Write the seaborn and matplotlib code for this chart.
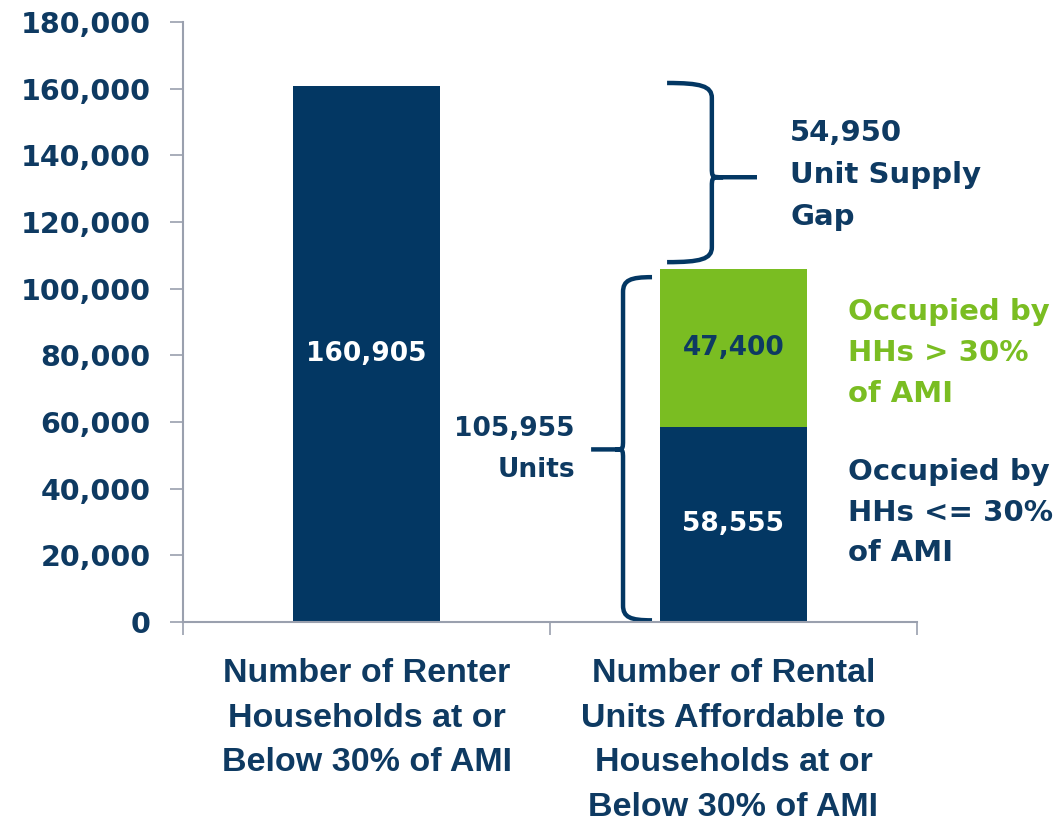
import matplotlib
matplotlib.use("Agg")
from matplotlib import pyplot as plt
from matplotlib.path import Path
from matplotlib.patches import PathPatch
from matplotlib.ticker import FuncFormatter
import seaborn as sns

# data
categories = ["Number of Renter\nHouseholds at or\nBelow 30% of AMI",
              "Number of Rental\nUnits Affordable to\nHouseholds at or\nBelow 30% of AMI"]
renter_households = 160905
units_low_income = 58555     # occupied by HHs <= 30% of AMI
units_higher_income = 47400  # occupied by HHs > 30% of AMI
units_total = units_low_income + units_higher_income
supply_gap = renter_households - units_total

navy = '#033763'
green = '#7ABD22'
text_navy = '#0E3A62'
axis_gray = '#9AA0AE'


def brace(ax, x_end, x_spine, x_tip, y_top, y_bot, y_mid, r, r_mid):
    x_cusp = x_spine + (x_tip - x_spine) * 0.25
    x_ctl = x_end + (x_spine - x_end) * 0.75
    verts = [(x_end, y_top), (x_ctl, y_top), (x_spine, y_top - r * 0.2), (x_spine, y_top - r),
             (x_spine, y_mid + r_mid),
             (x_spine, y_mid), (x_spine, y_mid), (x_cusp, y_mid),
             (x_tip, y_mid),
             (x_cusp, y_mid),
             (x_spine, y_mid), (x_spine, y_mid), (x_spine, y_mid - r_mid),
             (x_spine, y_bot + r),
             (x_spine, y_bot + r * 0.2), (x_ctl, y_bot), (x_end, y_bot)]
    M, C, L = Path.MOVETO, Path.CURVE4, Path.LINETO
    codes = [M, C, C, C, L, C, C, C, L, M, C, C, C, L, C, C, C]
    ax.add_patch(PathPatch(Path(verts, codes), fill=False, edgecolor=navy,
                           linewidth=3.2, capstyle='butt', joinstyle='round', clip_on=False))


sns.set_style("white")
plt.rcParams['font.family'] = ['DejaVu Sans']
plt.rcParams['font.weight'] = 'bold'

fig = plt.figure(figsize=(10.61, 8.36), dpi=100)
ax = fig.add_axes([183 / 1061, 214 / 836, 734 / 1061, 600 / 836])

# full height bars (second one green = all affordable units)
sns.barplot(x=categories, y=[renter_households, units_total], hue=categories,
            palette=[navy, green], width=0.4, legend=False, ax=ax, saturation=1,
            linewidth=0)
# lower segment of stacked bar
sns.barplot(x=categories, y=[renter_households, units_low_income], color=navy,
            width=0.4, ax=ax, saturation=1, linewidth=0)

ax.set_xlim(-0.5, 1.5)
ax.set_ylim(0, 180000)
ax.set_yticks(range(0, 180001, 20000))
ax.yaxis.set_major_formatter(FuncFormatter(lambda v, p: f"{v:,.0f}"))
ax.set_ylabel('')

ax.set_xticks([-0.5, 0.5, 1.5])
ax.set_xticklabels([])
ax.set_xticks([0, 1], minor=True)
ax.set_xticklabels(categories, minor=True, fontsize=24.5, color=text_navy,
                   family='Liberation Sans', fontweight='bold', linespacing=1.57, va='top')

ax.tick_params(axis='y', which='major', direction='out', length=9.4, width=1.2, left=True,
               color=axis_gray, pad=14, labelsize=20.5, labelcolor=text_navy)
ax.tick_params(axis='x', which='major', direction='out', length=9.4, width=1.2, bottom=True,
               color=axis_gray)
ax.tick_params(axis='x', which='minor', length=0, pad=26, bottom=True)
for lab in ax.get_yticklabels():
    lab.set_fontweight('bold')

for s in ['top', 'right']:
    ax.spines[s].set_visible(False)
for s in ['left', 'bottom']:
    ax.spines[s].set_color(axis_gray)
    ax.spines[s].set_linewidth(1.5)

# value labels inside bars
ax.text(0, renter_households / 2, f"{renter_households:,}", ha='center', va='center',
        color='white', fontsize=19, fontweight='bold')
ax.text(1, units_low_income + units_higher_income / 2, f"{units_higher_income:,}",
        ha='center', va='center', color=text_navy, fontsize=19, fontweight='bold')
ax.text(1, units_low_income / 2, f"{units_low_income:,}", ha='center', va='center',
        color='white', fontsize=19, fontweight='bold')

# braces
brace(ax, 0.819, 0.941, 1.064, renter_households + 800, units_total + 2000,
      (renter_households + units_total) / 2, 4500, 3000)
brace(ax, 0.778, 0.699, 0.612, units_total - 2500, 500, units_total / 2 - 1200, 4500, 3000)

ax.text(0.568, units_total / 2 - 1200, f"{units_total:,}\nUnits", ha='right', va='center',
        color=text_navy, fontsize=19, fontweight='bold', linespacing=1.75)
ax.text(1.154, (renter_households + units_total) / 2 + 700, f"{supply_gap:,}\nUnit Supply\nGap",
        ha='left', va='center', color=text_navy, fontsize=21, fontweight='bold',
        linespacing=1.62)
ax.text(1.312, units_low_income + units_higher_income / 2 - 1500, "Occupied by\nHHs > 30%\nof AMI",
        ha='left', va='center', color=green, fontsize=21, fontweight='bold',
        linespacing=1.58)
ax.text(1.312, 32800, "Occupied by\nHHs <= 30%\nof AMI",
        ha='left', va='center', color=text_navy, fontsize=21, fontweight='bold',
        linespacing=1.58)

plt.savefig("out.png", dpi=100)
